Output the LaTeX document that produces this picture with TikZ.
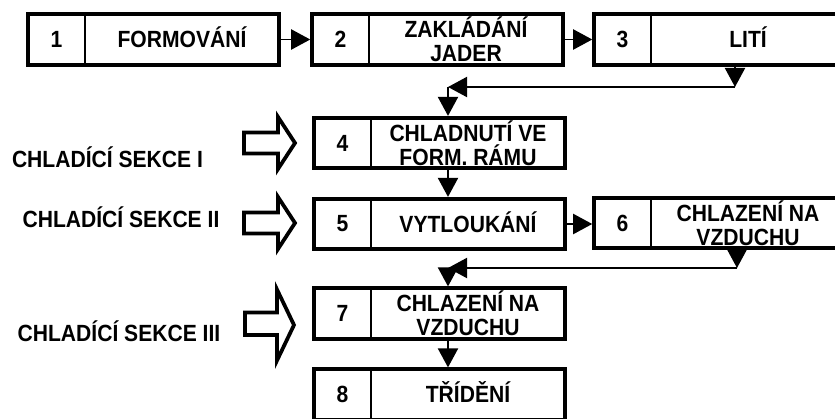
\documentclass[tikz,border=0pt]{standalone}
\usepackage{fontspec}
\setmainfont{Liberation Sans}[FakeStretch=0.9]
\usetikzlibrary{arrows.meta,positioning}

\begin{document}
\begin{tikzpicture}[x=0.03cm,y=-0.03cm,
    font=\bfseries\fontsize{20}{20.5}\selectfont,
    cell/.style={draw,line width=2.2pt,outer sep=0pt,inner sep=0pt,minimum height=1.52cm,align=center},
    numcell/.style={cell,minimum width=1.71cm},
    titlecell/.style={cell,minimum width=5.82cm,anchor=west},
    oneline/.style={text height=14.3pt,text depth=0pt},
    frame/.style={line width=3.4pt},
    flow/.style={line width=1.7pt,shorten >=1.5pt,-{Triangle[length=0.57cm,width=0.6cm]}},
    hollow/.style={line width=3.2pt,line join=miter},
    sekce/.style={anchor=base}]
  \useasboundingbox (0,0) rectangle (835,419);
  \clip (0,0) rectangle (835,419);
  % radek nahore
  \node[numcell] (n1) at (56.5,39.5) {1};
  \node[titlecell,oneline] (t1) at (n1.east) {FORMOVÁNÍ};
  \node[numcell] (n2) at (340.5,39.5) {2};
  \node[titlecell] (t2) at (n2.east) {ZAKLÁDÁNÍ\\JADER};
  \node[numcell] (n3) at (622.5,39.5) {3};
  \node[titlecell,oneline] (t3) at (n3.east) {LITÍ};
  % sloupec
  \node[numcell] (n4) at (342.5,143) {4};
  \node[titlecell] (t4) at (n4.east) {CHLADNUTÍ VE\\FORM. RÁMU};
  \node[numcell] (n5) at (342.5,224) {5};
  \node[titlecell,oneline] (t5) at (n5.east) {VYTLOUKÁNÍ};
  \node[numcell] (n6) at (622.5,223) {6};
  \node[titlecell] (t6) at (n6.east) {CHLAZENÍ NA\\VZDUCHU};
  \node[numcell] (n7) at (342.5,313.5) {7};
  \node[titlecell] (t7) at (n7.east) {CHLAZENÍ NA\\VZDUCHU};
  \node[numcell] (n8) at (342.5,394.5) {8};
  \node[titlecell,oneline] (t8) at (n8.east) {TŘÍDĚNÍ};
  \foreach \i in {1,...,8}
    \draw[frame] (n\i.north west) rectangle (t\i.south east);
  % sipky
  \coordinate (xa) at (448,0);
  \coordinate (c3) at (735,87);
  \coordinate (c4) at (448,87);
  \coordinate (c6) at (737,268);
  \coordinate (c7) at (448,268);
  \draw[flow] (t1.east) -- (n2.west);
  \draw[flow] (t2.east) -- (n3.west);
  \draw[flow,shorten >=0pt] (t3.south -| c3) -- (c3);
  \draw[flow,shorten >=0pt] (c3) -- (c4);
  \draw[flow] (c4) -- (t4.north -| c4);
  \draw[flow] (t4.south -| xa) -- (t5.north -| xa);
  \draw[flow] (t5.east) -- (t5.east -| n6.west);
  \draw[flow,shorten >=0pt] (t6.south -| c6) -- (c6);
  \draw[flow,shorten >=0pt] (c6) -- (c7);
  \draw[flow] (c7) -- (t7.north -| c7);
  \draw[flow] (t7.south -| xa) -- (t8.north -| xa);
  % chladici sekce
  \node[sekce] (s1) at (107.5,167) {CHLADÍCÍ SEKCE I};
  \node[sekce] (s2) at (121,227) {CHLADÍCÍ SEKCE II};
  \node[sekce] (s3) at (119,341) {CHLADÍCÍ SEKCE III};
  \draw[hollow] (244,132.5) -- (278,132.5) -- (278,117) -- (295,143) -- (278,169) -- (278,153.5) -- (244,153.5) -- cycle;
  \draw[hollow] (244,212.5) -- (278,212.5) -- (278,197) -- (295,223) -- (278,249) -- (278,233.5) -- (244,233.5) -- cycle;
  \draw[hollow] (245,312.5) -- (277,312.5) -- (277,289.5) -- (294,325) -- (277,360.5) -- (277,335) -- (245,335) -- cycle;
\end{tikzpicture}
\end{document}
